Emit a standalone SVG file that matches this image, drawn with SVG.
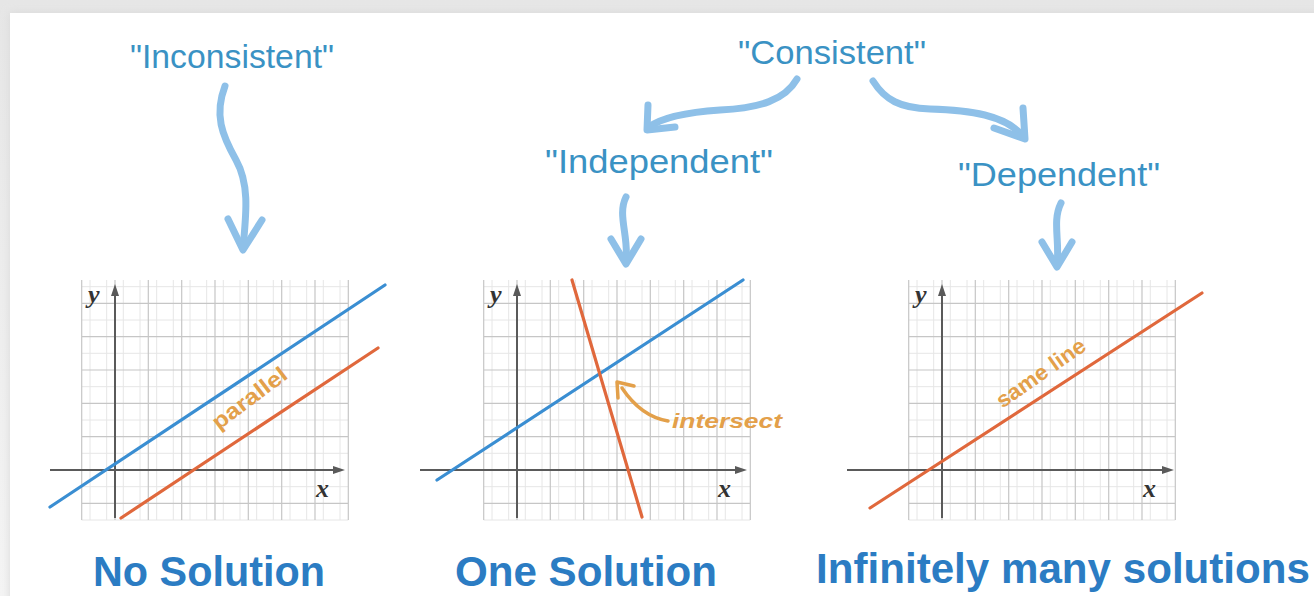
<svg xmlns="http://www.w3.org/2000/svg" width="1314" height="596" viewBox="0 0 1314 596">
<style>
.lbl{font-family:"Liberation Sans",Arial,sans-serif;font-size:34px;fill:#3a92c4}
.big{font-family:"Liberation Sans",Arial,sans-serif;font-size:42px;font-weight:bold;fill:#2b7cc3}
.ax{stroke:#5a5a5a;stroke-width:2;fill:none}
.axh{fill:#5a5a5a}
.var{font-family:"Liberation Serif","Times New Roman",serif;font-style:italic;font-weight:bold;font-size:26px;fill:#333}
.conn{stroke:#8ec0e8;stroke-width:7;fill:none;stroke-linecap:round;stroke-linejoin:round}
.note{font-family:"Liberation Sans",Arial,sans-serif;font-weight:bold;fill:#e3a04a}
.blue{stroke:#3a8ed2;stroke-width:3.2;fill:none;stroke-linecap:round}
.red{stroke:#e0683c;stroke-width:3.2;fill:none;stroke-linecap:round}
</style>
<defs>
<linearGradient id="bg" x1="0" y1="0" x2="0" y2="1">
<stop offset="0" stop-color="#e6e6e6"/><stop offset="1" stop-color="#f4f4f4"/>
</linearGradient>
<filter id="sh" x="-5%" y="-5%" width="110%" height="110%"><feGaussianBlur stdDeviation="4"/></filter>
<g id="grid">
<path d="M-25,-190V50M-8.3,-190V50M8.3,-190V50M25,-190V50M41.7,-190V50M58.3,-190V50M75,-190V50M91.7,-190V50M108.3,-190V50M125,-190V50M141.7,-190V50M158.3,-190V50M175,-190V50M191.7,-190V50M208.3,-190V50M225,-190V50M-33.3,-183.3H233.3M-33.3,-150H233.3M-33.3,-116.7H233.3M-33.3,-83.3H233.3M-33.3,-50H233.3M-33.3,-16.7H233.3M-33.3,16.7H233.3M-33.3,50H233.3" stroke="#e6e6e6" stroke-width="1" fill="none"/>
<path d="M-33.3,-190V50M0,-190V50M33.3,-190V50M66.7,-190V50M100,-190V50M133.3,-190V50M166.7,-190V50M200,-190V50M233.3,-190V50M-33.3,-166.7H233.3M-33.3,-133.3H233.3M-33.3,-100H233.3M-33.3,-66.7H233.3M-33.3,-33.3H233.3M-33.3,33.3H233.3" stroke="#c6c6c6" stroke-width="1.2" fill="none"/>
<path class="ax" d="M0,-178V48"/>
<polygon class="axh" points="0,-186 -4,-174 4,-174"/>
<text class="var" x="-27" y="-167">y</text>
<text class="var" x="201" y="27">x</text>
</g>
</defs>
<rect width="1314" height="596" fill="url(#bg)"/>
<rect x="10" y="13" width="1320" height="600" fill="#d8d8d8" filter="url(#sh)"/>
<rect x="10" y="13" width="1320" height="600" fill="#ffffff"/>

<g id="g-inconsistent"><text class="lbl" x="130" y="68" textLength="204" lengthAdjust="spacingAndGlyphs">"Inconsistent"</text></g>
<g id="g-consistent"><text class="lbl" x="738" y="64" textLength="188" lengthAdjust="spacingAndGlyphs">"Consistent"</text></g>
<g id="g-independent"><text class="lbl" x="545" y="173" textLength="228" lengthAdjust="spacingAndGlyphs">"Independent"</text></g>
<g id="g-dependent"><text class="lbl" x="958" y="186" textLength="202" lengthAdjust="spacingAndGlyphs">"Dependent"</text></g>

<g id="graph-no-solution">
<use href="#grid" transform="translate(115,470)"/>
<path class="ax" d="M50,470H336"/>
<polygon class="axh" points="345,470 333,466 333,474"/>
<path class="blue" d="M50,507L385,285"/>
<path class="red" d="M121,518L378,348"/>
<text class="note" font-size="22" transform="translate(254,404) rotate(-37)" text-anchor="middle" textLength="88" lengthAdjust="spacingAndGlyphs">parallel</text>
</g>

<g id="graph-one-solution">
<use href="#grid" transform="translate(517,470)"/>
<path class="ax" d="M420,470H738"/>
<polygon class="axh" points="747,470 735,466 735,474"/>
<path class="blue" d="M437,480L743,280"/>
<path class="red" d="M572,280L642,517"/>
<path d="M668,421C650,418 634,406 622,388" stroke="#e3a04a" stroke-width="3.5" fill="none" stroke-linecap="round"/>
<path d="M618,398L617,382L634,386" stroke="#e3a04a" stroke-width="3.5" fill="none" stroke-linecap="round" stroke-linejoin="round"/>
<text class="note" font-size="21" font-style="italic" x="672" y="428" textLength="110" lengthAdjust="spacingAndGlyphs">intersect</text>
</g>

<g id="graph-infinite">
<use href="#grid" transform="translate(942,470)"/>
<path class="ax" d="M847,470H1165"/>
<polygon class="axh" points="1174,470 1162,466 1162,474"/>
<path class="red" d="M870,508L1202,293"/>
<text class="note" font-size="22" transform="translate(1045,379) rotate(-35)" text-anchor="middle" textLength="104" lengthAdjust="spacingAndGlyphs">same line</text>
</g>

<g id="g-no-solution"><text class="big" x="93" y="586" textLength="232" lengthAdjust="spacingAndGlyphs">No Solution</text></g>
<g id="g-one-solution"><text class="big" x="455" y="586" textLength="262" lengthAdjust="spacingAndGlyphs">One Solution</text></g>
<g id="g-infinitely"><text class="big" x="816" y="583" textLength="494" lengthAdjust="spacingAndGlyphs">Infinitely many solutions</text></g>

<g id="connectors">
<path class="conn" d="M225,86C214,115 222,135 236,160C250,185 246,215 243,248"/>
<path class="conn" d="M228,219L243,250L262,220"/>
<path class="conn" d="M797,79C785,100 760,108 720,110C690,112 664,116 649,127"/>
<path class="conn" d="M648,105L647,130L675,127"/>
<path class="conn" d="M873,81C885,100 900,108 930,109C970,110 1005,115 1023,136"/>
<path class="conn" d="M1023,108L1025,139L994,128"/>
<path class="conn" d="M626,197C617,215 629,236 626,262"/>
<path class="conn" d="M611,239L626,264L641,239"/>
<path class="conn" d="M1061,203C1052,221 1060,241 1057,265"/>
<path class="conn" d="M1042,242L1057,267L1072,242"/>
</g>
</svg>
